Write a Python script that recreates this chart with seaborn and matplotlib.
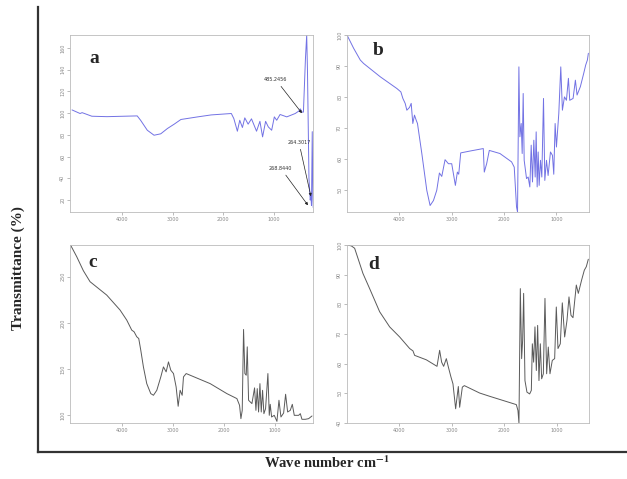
import matplotlib
matplotlib.use("Agg")
import matplotlib.pyplot as plt
import seaborn as sns
import pandas as pd

# FTIR spectra (wavenumber, transmittance)
wn_a = [5000, 4840, 4800, 4607, 4307, 3707, 3640, 3507, 3373, 3240, 3107, 2973, 2840, 2507,
        2240, 1840, 1790, 1720, 1673, 1620, 1573, 1507, 1440, 1340, 1273, 1220, 1160, 1107,
        1040, 987, 940, 873, 740, 573, 500, 473, 440, 410, 370, 345, 330, 300, 275, 262,
        250, 235, 222, 215]
tr_a = [103, 99.7, 100.5, 97.2, 96.8, 97.5, 93.5, 84.3, 79.7, 81, 85.9, 89.9, 94.2, 96.6,
        98.4, 99.7, 95, 83.4, 93.5, 86.8, 95.7, 89.9, 94.8, 83.4, 92.5, 78.2, 92.5, 87.4,
        84.3, 96.6, 93.5, 98.8, 96.6, 99.7, 102, 104, 101, 101, 150, 172, 140, 40, 20, 24,
        15, 83, 20, 13]

wn_b = [4997, 4870, 4743, 4680, 4362, 4044, 3968, 3930, 3886, 3854, 3803, 3771, 3740, 3708,
        3676, 3651, 3568, 3473, 3410, 3346, 3283, 3232, 3187, 3124, 3060, 2997, 2927, 2889,
        2863, 2825, 2648, 2394, 2375, 2330, 2279, 2076, 1854, 1803, 1759, 1740, 1714, 1695,
        1670, 1651, 1632, 1613, 1568, 1537, 1505, 1479, 1454, 1429, 1403, 1384, 1365, 1346,
        1327, 1302, 1276, 1244, 1219, 1187, 1156, 1111, 1073, 1048, 1022, 997, 952, 914,
        883, 844, 806, 768, 743, 679, 635, 603, 540, 476, 438, 406, 387]
tr_b = [100, 95.7, 91.9, 90.8, 86.5, 82.7, 81.6, 79.5, 77.9, 75.7, 76.6, 77.9, 71.4, 74.1,
        72.5, 71.4, 61.7, 49.8, 44.9, 46.5, 49.8, 55.4, 54.3, 59.7, 58.4, 58.4, 51.4, 55.7,
        55, 61.9, 62.5, 63.3, 55.7, 58.4, 62.7, 61.7, 59, 57.3, 44.4, 42.8, 89.7, 67.1,
        71.4, 61.7, 81.1, 59.5, 53.6, 54.1, 50.9, 64.4, 52.5, 66, 54.1, 68.7, 50.9, 62.2,
        51.4, 59.5, 54.1, 79.5, 53, 59.5, 54.6, 62.2, 61.1, 55, 71.4, 63.8, 74.6, 89.7,
        75.7, 80, 78.9, 86, 78.9, 79.5, 85.4, 80.6, 83.3, 87.6, 90.3, 91.9, 94.1]

wn_c = [5020, 4901, 4770, 4638, 4309, 4046, 3914, 3816, 3770, 3717, 3678, 3638, 3586, 3520,
        3441, 3388, 3322, 3243, 3191, 3138, 3092, 3046, 2993, 2941, 2901, 2862, 2822, 2796,
        2743, 2270, 1941, 1743, 1691, 1664, 1638, 1612, 1586, 1559, 1539, 1513, 1447, 1395,
        1368, 1342, 1316, 1289, 1263, 1237, 1211, 1178, 1132, 1105, 1086, 1059, 1007, 954,
        914, 875, 822, 783, 743, 691, 651, 612, 526, 493, 461, 395, 329, 263]
tr_c = [284, 271.7, 256.5, 244.6, 230.1, 213.9, 203, 192.2, 190.4, 185, 183.1, 170.5, 152.4,
        134.3, 123.5, 121.7, 127.1, 141.6, 152.4, 147, 157.8, 148.8, 145.2, 130.7, 109.8,
        127.1, 121.7, 141.6, 145.2, 134.3, 123.5, 118.1, 110.9, 96.4, 105.4, 192.9, 145.2,
        143.4, 174.1, 116.3, 112.7, 129.7, 105.4, 128.9, 103.6, 134.3, 103.6, 127.1, 101.8,
        107.2, 145.2, 100, 111.9, 98.2, 100, 93.5, 116.3, 98.2, 102.5, 122.8, 103.6, 105.4,
        111.9, 100, 100, 101.8, 95.7, 95.7, 96.4, 99.3]

wn_d = [4987, 4905, 4842, 4747, 4684, 4557, 4367, 4177, 3987, 3797, 3734, 3703, 3658, 3481,
        3278, 3228, 3190, 3152, 3101, 3063, 3013, 2975, 2924, 2873, 2848, 2797, 2759, 2468,
        2278, 1772, 1741, 1722, 1696, 1671, 1652, 1633, 1608, 1570, 1519, 1487, 1468, 1443,
        1418, 1392, 1367, 1342, 1316, 1291, 1259, 1228, 1196, 1165, 1133, 1089, 1044, 1013,
        981, 937, 899, 854, 810, 772, 734, 696, 633, 595, 532, 481, 443, 405]
tr_d = [100, 99.7, 98.9, 93.8, 90.4, 85.3, 77.5, 72.4, 69, 65.1, 64.3, 62.8, 62.5, 61.3,
        59.1, 64.5, 60.5, 59.1, 61.7, 58.9, 55.5, 53.2, 44.8, 52.3, 45.3, 52.1, 52.6, 50.1,
        49, 46.2, 44.2, 40, 85.3, 61.7, 67.9, 83.7, 54.3, 50.4, 49.8, 51, 66.7, 60.5, 72.4,
        57.7, 72.9, 54.3, 66.7, 54.9, 56.6, 82, 56.6, 65.6, 56.6, 61.1, 61.7, 79.1, 65.1,
        66.7, 80.5, 69, 74.6, 82.5, 76.3, 75.5, 86.5, 83.7, 88.2, 91.5, 92.7, 95.2]

panel_letters = ["a", "b", "c", "d"]
peak_labels = ["485.2456", "264.3017", "268.8440"]

sns.set_style("white")
plt.rcParams["mathtext.fontset"] = "stix"
fig = plt.figure(figsize=(6.27, 4.79), dpi=100)

serif = ["Liberation Serif", "DejaVu Serif"]

# outer frame with only left and bottom lines
ax0 = fig.add_axes([38 / 627, 27 / 479, 589 / 627, 445 / 479])
ax0.set_xticks([])
ax0.set_yticks([])
ax0.patch.set_alpha(0)
for s in ["top", "right"]:
    ax0.spines[s].set_visible(False)
for s in ["left", "bottom"]:
    ax0.spines[s].set_color("#333333")
    ax0.spines[s].set_linewidth(1.6)

boxes = [
    [70 / 627, 267 / 479, 243 / 627, 177 / 479],
    [347 / 627, 267 / 479, 242 / 627, 177 / 479],
    [70 / 627, 56 / 479, 243 / 627, 178 / 479],
    [347 / 627, 56 / 479, 242 / 627, 178 / 479],
]
series = [(wn_a, tr_a), (wn_b, tr_b), (wn_c, tr_c), (wn_d, tr_d)]
colors = ["#7272e4", "#7272e4", "#5a5a5a", "#5a5a5a"]
xlims = [(5040, 220), (4997, 375), (5033, 243), (4987, 392)]
ylims = [(9, 172), (42.8, 100), (91.7, 284.3), (40, 100)]
yticks = [[20, 40, 60, 80, 100, 120, 140, 160], [50, 60, 70, 80, 90, 100],
          [100, 150, 200, 250], [40, 50, 60, 70, 80, 90, 100]]
letter_pos = [(0.10, 0.865), (0.13, 0.91), (0.095, 0.90), (0.11, 0.89)]

for i, (wn, tr) in enumerate(series):
    ax = fig.add_axes(boxes[i])
    df = pd.DataFrame({"wavenumber": wn, "transmittance": tr})
    sns.lineplot(data=df, x="wavenumber", y="transmittance", sort=False,
                 color=colors[i], linewidth=0.7, ax=ax)
    ax.set_xlim(*xlims[i])
    ax.set_ylim(*ylims[i])
    ax.set_xticks([4000, 3000, 2000, 1000])
    ax.set_yticks(yticks[i])
    ax.set_xlabel("")
    ax.set_ylabel("")
    ax.tick_params(axis="both", labelsize=3.5, colors="#888888", length=2, width=0.4,
                   pad=1.5, direction="out", bottom=True, left=True)
    for lab in ax.get_yticklabels():
        lab.set_rotation(90)
        lab.set_va("center")
    for s in ax.spines.values():
        s.set_color("#bbbbbb")
        s.set_linewidth(0.6)
    ax.text(*letter_pos[i], panel_letters[i], transform=ax.transAxes, family=serif,
            fontweight="bold", fontsize=14, ha="center", va="center")
    if i == 0:
        arrow = dict(arrowstyle="-|>", color="#222222", lw=0.5, mutation_scale=4,
                     shrinkA=1, shrinkB=0)
        ax.annotate(peak_labels[0], xy=(440, 100), xytext=(960, 131), fontsize=3.5,
                    color="#333333", ha="center", va="center", arrowprops=arrow)
        ax.annotate(peak_labels[1], xy=(262, 23.5), xytext=(500, 73.3), fontsize=3.5,
                    color="#333333", ha="center", va="center", arrowprops=arrow)
        ax.annotate(peak_labels[2], xy=(320, 15.2), xytext=(860, 49.3), fontsize=3.5,
                    color="#333333", ha="center", va="center", arrowprops=arrow)

fig.text(18 / 627, 211 / 479, "Transmittance (%)", rotation=90, family=serif,
         fontweight="bold", fontsize=11, ha="center", va="center")
fig.text(327 / 627, 16 / 479, r"Wave number cm$^{\mathbf{-1}}$", family=serif,
         fontweight="bold", fontsize=10.5, ha="center", va="center")

fig.savefig("out.png", dpi=100)
